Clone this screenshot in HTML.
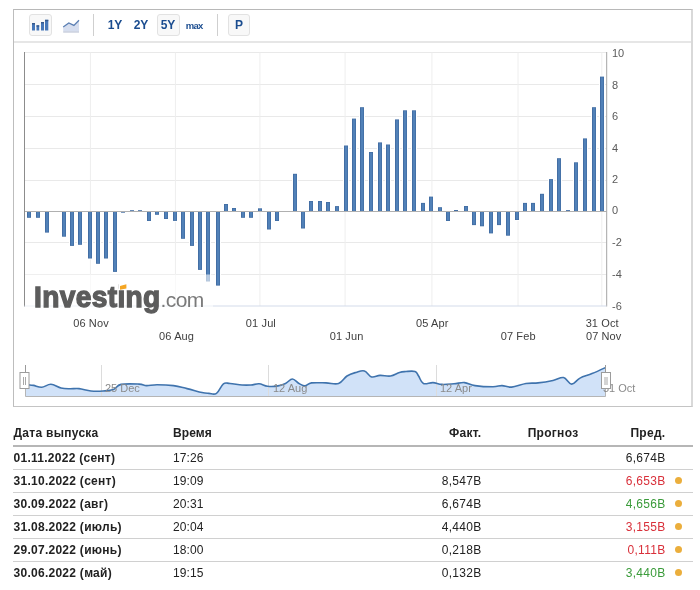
<!DOCTYPE html>
<html lang="ru"><head><meta charset="utf-8"><title>Chart</title>
<style>
html,body{margin:0;padding:0;background:#fff;}
body{width:700px;height:590px;position:relative;overflow:hidden;font-family:"Liberation Sans",sans-serif;}
#box{position:absolute;left:13px;top:9px;width:677px;height:396px;border:1px solid #b8b8b8;border-left-color:#bdbdbd;border-right:2px solid #d9d9d9;border-bottom-color:#c4c4c4;background:#fff;}
#sep{position:absolute;left:14px;top:41px;width:677px;height:2px;background:#e6e6e6;}
.btn{position:absolute;top:14.1px;width:22.6px;height:22.4px;box-sizing:border-box;border:1px solid transparent;border-radius:3px;}
.btn.on{background:#f8f8f8;border-color:#e2e2e2;}
.tb{position:absolute;top:14px;height:22px;line-height:22px;width:22px;text-align:center;font-weight:bold;font-size:12px;color:#1a4c8f;}
.vs{position:absolute;top:14px;width:1px;height:22px;background:#cfcfcf;}
svg{position:absolute;left:0;top:0;}
.yl{font-size:11px;fill:#5a5a5a;font-family:"Liberation Sans",sans-serif;}
.xl{font-size:11px;letter-spacing:0.12px;fill:#404040;font-family:"Liberation Sans",sans-serif;}
.nl{font-size:11px;fill:#8a8a8a;font-family:"Liberation Sans",sans-serif;}
#logo{position:absolute;left:34.3px;top:279px;height:36px;white-space:nowrap;}
#logo .a{position:absolute;left:0;top:0;font-weight:bold;font-size:29px;color:#5c5c5c;letter-spacing:0.36px;line-height:36px;-webkit-text-stroke:1.3px #5c5c5c;transform:scaleX(0.97);transform-origin:0 0;}
#logo .b{position:absolute;left:126.3px;top:2.8px;font-size:21px;color:#7a7a7a;letter-spacing:-0.6px;line-height:36px;}
#tit{position:absolute;left:118px;top:283px;width:8px;height:6px;}
#tbl{position:absolute;left:13px;top:420px;width:680px;font-size:12px;color:#222;}
.hdr{position:relative;height:27px;border-bottom:2px solid #b6b6b6;font-weight:bold;box-sizing:border-box;}
.row{position:relative;height:23px;border-bottom:1px solid #d0d0d0;box-sizing:border-box;}
.row:last-child{border-bottom:none;}
.hdr span,.row span{position:absolute;top:0;line-height:22px;white-space:nowrap;}
.hdr span{line-height:26.6px;}
.c1{left:0.5px;font-weight:bold;letter-spacing:0.27px;}
.c2{left:160px;letter-spacing:0.1px;}
.c3{right:211.5px;letter-spacing:0.3px;}
.c4{right:114.6px;letter-spacing:0.3px;}
.c5{right:27.5px;letter-spacing:0.3px;}
.r{color:#d9303a;} .g{color:#3a9b3a;} .k{color:#222;}
.dot{position:absolute;left:662px;top:7.3px;width:7px;height:7px;border-radius:50%;background:#ebae3c;}
</style></head><body>
<div id="box"></div>
<div id="sep"></div>
<div class="btn on" style="left:29.2px"></div>
<div class="btn on" style="left:157px"></div>
<div class="btn on" style="left:227.9px"></div>
<div class="tb" style="left:104px">1Y</div>
<div class="tb" style="left:130px">2Y</div>
<div class="tb" style="left:157px">5Y</div>
<div class="tb" style="left:183.1px;top:14.5px;font-size:9.5px;letter-spacing:-0.75px;">max</div>
<div class="tb" style="left:228px">P</div>
<div class="vs" style="left:93px"></div>
<div class="vs" style="left:216.5px"></div>
<svg width="700" height="410" viewBox="0 0 700 410">
<!-- toolbar icons -->
<g fill="#4677b8"><rect x="32" y="23" width="3" height="7.5"/><rect x="36.5" y="25.3" width="2.7" height="5.2"/><rect x="41" y="22" width="3" height="8.5"/><rect x="45" y="19.8" width="3.3" height="10.7"/></g>
<g fill="#35598c"><rect x="32" y="23" width="3" height="1.4"/><rect x="36.5" y="25.3" width="2.7" height="1.4"/><rect x="41" y="22" width="3" height="1.4"/><rect x="45" y="19.8" width="3.3" height="1.4"/></g>
<path d="M63.2 27L68.8 22.9L73.9 25.4L79 20.3V31.5H63.2Z" fill="#d6deef"/>
<path d="M63.2 32H79" stroke="#b4bccf" stroke-width="1"/>
<path d="M63.2 27L68.8 22.9L73.9 25.4L79 20.3" fill="none" stroke="#5b7fb3" stroke-width="1.3"/>
<path d="M24.5 52.50H606.5" stroke="#e9e9e9" stroke-width="1"/>
<path d="M24.5 84.50H606.5" stroke="#e9e9e9" stroke-width="1"/>
<path d="M24.5 116.50H606.5" stroke="#e9e9e9" stroke-width="1"/>
<path d="M24.5 148.50H606.5" stroke="#e9e9e9" stroke-width="1"/>
<path d="M24.5 180.50H606.5" stroke="#e9e9e9" stroke-width="1"/>
<path d="M24.5 242.50H606.5" stroke="#e9e9e9" stroke-width="1"/>
<path d="M24.5 274.50H606.5" stroke="#e9e9e9" stroke-width="1"/>
<path d="M90.4 52.5V306" stroke="#eeeeee" stroke-width="1"/>
<path d="M175.4 52.5V306" stroke="#eeeeee" stroke-width="1"/>
<path d="M259.9 52.5V306" stroke="#eeeeee" stroke-width="1"/>
<path d="M345.1 52.5V306" stroke="#eeeeee" stroke-width="1"/>
<path d="M431.9 52.5V306" stroke="#eeeeee" stroke-width="1"/>
<path d="M518 52.5V306" stroke="#eeeeee" stroke-width="1"/>
<path d="M601.8 52.5V306" stroke="#eeeeee" stroke-width="1"/>
<rect x="26" y="212" width="6" height="6.8" fill="#fff"/>
<rect x="27" y="212" width="4" height="5.8" fill="#436ea4"/>
<rect x="28" y="212" width="2.2" height="5.0" fill="#5181b8"/>
<rect x="35" y="212" width="6" height="6.8" fill="#fff"/>
<rect x="36" y="212" width="4" height="5.8" fill="#436ea4"/>
<rect x="37" y="212" width="2.2" height="5.0" fill="#5181b8"/>
<rect x="44" y="212" width="6" height="21.6" fill="#fff"/>
<rect x="45" y="212" width="4" height="20.6" fill="#436ea4"/>
<rect x="46" y="212" width="2.2" height="19.8" fill="#5181b8"/>
<rect x="61" y="212" width="6" height="25.7" fill="#fff"/>
<rect x="62" y="212" width="4" height="24.7" fill="#436ea4"/>
<rect x="63" y="212" width="2.2" height="23.9" fill="#5181b8"/>
<rect x="69" y="212" width="6" height="34.9" fill="#fff"/>
<rect x="70" y="212" width="4" height="33.9" fill="#436ea4"/>
<rect x="71" y="212" width="2.2" height="33.1" fill="#5181b8"/>
<rect x="77" y="212" width="6" height="33.8" fill="#fff"/>
<rect x="78" y="212" width="4" height="32.8" fill="#436ea4"/>
<rect x="79" y="212" width="2.2" height="32.0" fill="#5181b8"/>
<rect x="87" y="212" width="6" height="47.5" fill="#fff"/>
<rect x="88" y="212" width="4" height="46.5" fill="#436ea4"/>
<rect x="89" y="212" width="2.2" height="45.7" fill="#5181b8"/>
<rect x="95" y="212" width="6" height="52.8" fill="#fff"/>
<rect x="96" y="212" width="4" height="51.8" fill="#436ea4"/>
<rect x="97" y="212" width="2.2" height="51.0" fill="#5181b8"/>
<rect x="103" y="212" width="6" height="47.5" fill="#fff"/>
<rect x="104" y="212" width="4" height="46.5" fill="#436ea4"/>
<rect x="105" y="212" width="2.2" height="45.7" fill="#5181b8"/>
<rect x="112" y="212" width="6" height="60.9" fill="#fff"/>
<rect x="113" y="212" width="4" height="59.9" fill="#436ea4"/>
<rect x="114" y="212" width="2.2" height="59.1" fill="#5181b8"/>
<rect x="120" y="212" width="6" height="1.7" fill="#fff"/>
<rect x="121" y="212" width="4" height="0.7" fill="#436ea4"/>
<rect x="129" y="209.2" width="6" height="1.8" fill="#fff"/>
<rect x="130" y="210.2" width="4" height="0.8" fill="#436ea4"/>
<rect x="137" y="209.2" width="6" height="1.8" fill="#fff"/>
<rect x="138" y="210.2" width="4" height="0.8" fill="#436ea4"/>
<rect x="146" y="212" width="6" height="10.0" fill="#fff"/>
<rect x="147" y="212" width="4" height="9.0" fill="#436ea4"/>
<rect x="148" y="212" width="2.2" height="8.2" fill="#5181b8"/>
<rect x="154" y="212" width="6" height="3.8" fill="#fff"/>
<rect x="155" y="212" width="4" height="2.8" fill="#436ea4"/>
<rect x="156" y="212" width="2.2" height="2.0" fill="#5181b8"/>
<rect x="163" y="212" width="6" height="8.0" fill="#fff"/>
<rect x="164" y="212" width="4" height="7.0" fill="#436ea4"/>
<rect x="165" y="212" width="2.2" height="6.2" fill="#5181b8"/>
<rect x="172" y="212" width="6" height="9.9" fill="#fff"/>
<rect x="173" y="212" width="4" height="8.9" fill="#436ea4"/>
<rect x="174" y="212" width="2.2" height="8.1" fill="#5181b8"/>
<rect x="180" y="212" width="6" height="27.8" fill="#fff"/>
<rect x="181" y="212" width="4" height="26.8" fill="#436ea4"/>
<rect x="182" y="212" width="2.2" height="26.0" fill="#5181b8"/>
<rect x="189" y="212" width="6" height="34.9" fill="#fff"/>
<rect x="190" y="212" width="4" height="33.9" fill="#436ea4"/>
<rect x="191" y="212" width="2.2" height="33.1" fill="#5181b8"/>
<rect x="197" y="212" width="6" height="58.9" fill="#fff"/>
<rect x="198" y="212" width="4" height="57.9" fill="#436ea4"/>
<rect x="199" y="212" width="2.2" height="57.1" fill="#5181b8"/>
<rect x="205" y="212" width="6" height="70.5" fill="#fff"/>
<rect x="206" y="212" width="4" height="69.5" fill="#436ea4"/>
<rect x="207" y="212" width="2.2" height="68.7" fill="#5181b8"/>
<rect x="215" y="212" width="6" height="74.6" fill="#fff"/>
<rect x="216" y="212" width="4" height="73.6" fill="#436ea4"/>
<rect x="217" y="212" width="2.2" height="72.8" fill="#5181b8"/>
<rect x="223" y="203.0" width="6" height="8.0" fill="#fff"/>
<rect x="224" y="204.0" width="4" height="7.0" fill="#436ea4"/>
<rect x="225" y="204.8" width="2.2" height="6.2" fill="#5181b8"/>
<rect x="231" y="207.0" width="6" height="4.0" fill="#fff"/>
<rect x="232" y="208.0" width="4" height="3.0" fill="#436ea4"/>
<rect x="233" y="208.8" width="2.2" height="2.2" fill="#5181b8"/>
<rect x="240" y="212" width="6" height="6.8" fill="#fff"/>
<rect x="241" y="212" width="4" height="5.8" fill="#436ea4"/>
<rect x="242" y="212" width="2.2" height="5.0" fill="#5181b8"/>
<rect x="248" y="212" width="6" height="6.8" fill="#fff"/>
<rect x="249" y="212" width="4" height="5.8" fill="#436ea4"/>
<rect x="250" y="212" width="2.2" height="5.0" fill="#5181b8"/>
<rect x="257" y="207.3" width="6" height="3.7" fill="#fff"/>
<rect x="258" y="208.3" width="4" height="2.7" fill="#436ea4"/>
<rect x="259" y="209.1" width="2.2" height="1.9" fill="#5181b8"/>
<rect x="266" y="212" width="6" height="18.5" fill="#fff"/>
<rect x="267" y="212" width="4" height="17.5" fill="#436ea4"/>
<rect x="268" y="212" width="2.2" height="16.7" fill="#5181b8"/>
<rect x="274" y="212" width="6" height="10.0" fill="#fff"/>
<rect x="275" y="212" width="4" height="9.0" fill="#436ea4"/>
<rect x="276" y="212" width="2.2" height="8.2" fill="#5181b8"/>
<rect x="292" y="172.8" width="6" height="38.2" fill="#fff"/>
<rect x="293" y="173.8" width="4" height="37.2" fill="#436ea4"/>
<rect x="294" y="174.6" width="2.2" height="36.5" fill="#5181b8"/>
<rect x="300" y="212" width="6" height="17.5" fill="#fff"/>
<rect x="301" y="212" width="4" height="16.5" fill="#436ea4"/>
<rect x="302" y="212" width="2.2" height="15.7" fill="#5181b8"/>
<rect x="308" y="200.0" width="6" height="11.0" fill="#fff"/>
<rect x="309" y="201.0" width="4" height="10.0" fill="#436ea4"/>
<rect x="310" y="201.8" width="2.2" height="9.2" fill="#5181b8"/>
<rect x="317" y="200.0" width="6" height="11.0" fill="#fff"/>
<rect x="318" y="201.0" width="4" height="10.0" fill="#436ea4"/>
<rect x="319" y="201.8" width="2.2" height="9.2" fill="#5181b8"/>
<rect x="325" y="201.0" width="6" height="10.0" fill="#fff"/>
<rect x="326" y="202.0" width="4" height="9.0" fill="#436ea4"/>
<rect x="327" y="202.8" width="2.2" height="8.2" fill="#5181b8"/>
<rect x="334" y="205.1" width="6" height="5.9" fill="#fff"/>
<rect x="335" y="206.1" width="4" height="4.9" fill="#436ea4"/>
<rect x="336" y="206.9" width="2.2" height="4.1" fill="#5181b8"/>
<rect x="343" y="144.5" width="6" height="66.5" fill="#fff"/>
<rect x="344" y="145.5" width="4" height="65.5" fill="#436ea4"/>
<rect x="345" y="146.3" width="2.2" height="64.7" fill="#5181b8"/>
<rect x="351" y="117.6" width="6" height="93.4" fill="#fff"/>
<rect x="352" y="118.6" width="4" height="92.4" fill="#436ea4"/>
<rect x="353" y="119.4" width="2.2" height="91.6" fill="#5181b8"/>
<rect x="359" y="106.2" width="6" height="104.8" fill="#fff"/>
<rect x="360" y="107.2" width="4" height="103.8" fill="#436ea4"/>
<rect x="361" y="108.0" width="2.2" height="103.0" fill="#5181b8"/>
<rect x="368" y="151.0" width="6" height="60.0" fill="#fff"/>
<rect x="369" y="152.0" width="4" height="59.0" fill="#436ea4"/>
<rect x="370" y="152.8" width="2.2" height="58.2" fill="#5181b8"/>
<rect x="377" y="141.4" width="6" height="69.6" fill="#fff"/>
<rect x="378" y="142.4" width="4" height="68.6" fill="#436ea4"/>
<rect x="379" y="143.2" width="2.2" height="67.8" fill="#5181b8"/>
<rect x="385" y="143.5" width="6" height="67.5" fill="#fff"/>
<rect x="386" y="144.5" width="4" height="66.5" fill="#436ea4"/>
<rect x="387" y="145.3" width="2.2" height="65.7" fill="#5181b8"/>
<rect x="394" y="118.4" width="6" height="92.6" fill="#fff"/>
<rect x="395" y="119.4" width="4" height="91.6" fill="#436ea4"/>
<rect x="396" y="120.2" width="2.2" height="90.8" fill="#5181b8"/>
<rect x="402" y="109.3" width="6" height="101.7" fill="#fff"/>
<rect x="403" y="110.3" width="4" height="100.7" fill="#436ea4"/>
<rect x="404" y="111.1" width="2.2" height="99.9" fill="#5181b8"/>
<rect x="411" y="109.3" width="6" height="101.7" fill="#fff"/>
<rect x="412" y="110.3" width="4" height="100.7" fill="#436ea4"/>
<rect x="413" y="111.1" width="2.2" height="99.9" fill="#5181b8"/>
<rect x="420" y="201.9" width="6" height="9.1" fill="#fff"/>
<rect x="421" y="202.9" width="4" height="8.1" fill="#436ea4"/>
<rect x="422" y="203.7" width="2.2" height="7.3" fill="#5181b8"/>
<rect x="428" y="195.6" width="6" height="15.4" fill="#fff"/>
<rect x="429" y="196.6" width="4" height="14.4" fill="#436ea4"/>
<rect x="430" y="197.4" width="2.2" height="13.6" fill="#5181b8"/>
<rect x="437" y="206.2" width="6" height="4.8" fill="#fff"/>
<rect x="438" y="207.2" width="4" height="3.8" fill="#436ea4"/>
<rect x="439" y="208.0" width="2.2" height="3.0" fill="#5181b8"/>
<rect x="445" y="212" width="6" height="10.0" fill="#fff"/>
<rect x="446" y="212" width="4" height="9.0" fill="#436ea4"/>
<rect x="447" y="212" width="2.2" height="8.2" fill="#5181b8"/>
<rect x="453" y="209.0" width="6" height="2.0" fill="#fff"/>
<rect x="454" y="210.0" width="4" height="1.0" fill="#436ea4"/>
<rect x="463" y="205.0" width="6" height="6.0" fill="#fff"/>
<rect x="464" y="206.0" width="4" height="5.0" fill="#436ea4"/>
<rect x="465" y="206.8" width="2.2" height="4.2" fill="#5181b8"/>
<rect x="471" y="212" width="6" height="14.1" fill="#fff"/>
<rect x="472" y="212" width="4" height="13.1" fill="#436ea4"/>
<rect x="473" y="212" width="2.2" height="12.3" fill="#5181b8"/>
<rect x="479" y="212" width="6" height="15.3" fill="#fff"/>
<rect x="480" y="212" width="4" height="14.3" fill="#436ea4"/>
<rect x="481" y="212" width="2.2" height="13.5" fill="#5181b8"/>
<rect x="488" y="212" width="6" height="22.4" fill="#fff"/>
<rect x="489" y="212" width="4" height="21.4" fill="#436ea4"/>
<rect x="490" y="212" width="2.2" height="20.6" fill="#5181b8"/>
<rect x="496" y="212" width="6" height="14.1" fill="#fff"/>
<rect x="497" y="212" width="4" height="13.1" fill="#436ea4"/>
<rect x="498" y="212" width="2.2" height="12.3" fill="#5181b8"/>
<rect x="505" y="212" width="6" height="24.7" fill="#fff"/>
<rect x="506" y="212" width="4" height="23.7" fill="#436ea4"/>
<rect x="507" y="212" width="2.2" height="22.9" fill="#5181b8"/>
<rect x="514" y="212" width="6" height="9.0" fill="#fff"/>
<rect x="515" y="212" width="4" height="8.0" fill="#436ea4"/>
<rect x="516" y="212" width="2.2" height="7.2" fill="#5181b8"/>
<rect x="522" y="201.9" width="6" height="9.1" fill="#fff"/>
<rect x="523" y="202.9" width="4" height="8.1" fill="#436ea4"/>
<rect x="524" y="203.7" width="2.2" height="7.3" fill="#5181b8"/>
<rect x="530" y="201.9" width="6" height="9.1" fill="#fff"/>
<rect x="531" y="202.9" width="4" height="8.1" fill="#436ea4"/>
<rect x="532" y="203.7" width="2.2" height="7.3" fill="#5181b8"/>
<rect x="539" y="192.8" width="6" height="18.2" fill="#fff"/>
<rect x="540" y="193.8" width="4" height="17.2" fill="#436ea4"/>
<rect x="541" y="194.6" width="2.2" height="16.4" fill="#5181b8"/>
<rect x="548" y="178.1" width="6" height="32.9" fill="#fff"/>
<rect x="549" y="179.1" width="4" height="31.9" fill="#436ea4"/>
<rect x="550" y="179.9" width="2.2" height="31.1" fill="#5181b8"/>
<rect x="556" y="157.2" width="6" height="53.8" fill="#fff"/>
<rect x="557" y="158.2" width="4" height="52.8" fill="#436ea4"/>
<rect x="558" y="159.0" width="2.2" height="52.0" fill="#5181b8"/>
<rect x="565" y="209.1" width="6" height="1.9" fill="#fff"/>
<rect x="566" y="210.1" width="4" height="0.9" fill="#436ea4"/>
<rect x="573" y="161.3" width="6" height="49.7" fill="#fff"/>
<rect x="574" y="162.3" width="4" height="48.7" fill="#436ea4"/>
<rect x="575" y="163.1" width="2.2" height="47.9" fill="#5181b8"/>
<rect x="582" y="137.4" width="6" height="73.6" fill="#fff"/>
<rect x="583" y="138.4" width="4" height="72.6" fill="#436ea4"/>
<rect x="584" y="139.2" width="2.2" height="71.8" fill="#5181b8"/>
<rect x="591" y="106.2" width="6" height="104.8" fill="#fff"/>
<rect x="592" y="107.2" width="4" height="103.8" fill="#436ea4"/>
<rect x="593" y="108.0" width="2.2" height="103.0" fill="#5181b8"/>
<rect x="599" y="75.6" width="6" height="135.4" fill="#fff"/>
<rect x="600" y="76.6" width="4" height="134.4" fill="#436ea4"/>
<rect x="601" y="77.4" width="2.2" height="133.6" fill="#5181b8"/>
<path d="M24.5 211.5H606.5" stroke="#b0b0b0" stroke-width="1"/>
<path d="M24.5 52V306.5" stroke="#8c8c8c" stroke-width="1"/>
<path d="M606.7 52V306.5" stroke="#a4a4a4" stroke-width="1"/>
<path d="M24.5 306H606.5" stroke="#d3dbea" stroke-width="1"/>
<rect x="25" y="274.5" width="188" height="42" fill="#fff" opacity="0.6"/>
<text x="612" y="56.5" class="yl">10</text>
<text x="612" y="88.5" class="yl">8</text>
<text x="612" y="119.6" class="yl">6</text>
<text x="612" y="151.5" class="yl">4</text>
<text x="612" y="183.2" class="yl">2</text>
<text x="612" y="214.2" class="yl">0</text>
<text x="612" y="245.7" class="yl">-2</text>
<text x="612" y="278.0" class="yl">-4</text>
<text x="612" y="310.0" class="yl">-6</text>
<text x="91" y="327.0" class="xl" text-anchor="middle">06 Nov</text>
<text x="176.6" y="339.6" class="xl" text-anchor="middle">06 Aug</text>
<text x="260.9" y="327.0" class="xl" text-anchor="middle">01 Jul</text>
<text x="346.6" y="339.6" class="xl" text-anchor="middle">01 Jun</text>
<text x="432.3" y="327.0" class="xl" text-anchor="middle">05 Apr</text>
<text x="518.2" y="339.6" class="xl" text-anchor="middle">07 Feb</text>
<text x="602.2" y="327.0" class="xl" text-anchor="middle">31 Oct</text>
<text x="603.7" y="339.6" class="xl" text-anchor="middle">07 Nov</text>
<path d="M25.5 385C26.1 385.0 27.5 384.8 29 384.9C30.5 385.0 31.3 385.0 33.6 385.4C35.9 385.8 38.6 387.5 41.7 387.3C44.8 387.1 47.4 384.2 50.9 384.3C54.4 384.4 57.6 387.2 61 388C64.4 388.8 66.8 388.7 70 388.8C73.2 388.9 75.2 388.2 79 388.6C82.8 389.0 86.7 390.6 91 391C95.3 391.4 99.0 391.3 103 391C107.0 390.7 110.3 390.7 113.5 389.5C116.7 388.3 116.4 385.4 121 384.4C125.6 383.4 134.4 383.9 139 384.1C143.6 384.3 143.3 385.5 146.5 385.6C149.7 385.7 152.1 384.7 157 384.7C161.9 384.7 168.1 384.9 173.5 385.6C178.9 386.3 181.9 387.4 187 388.6C192.1 389.8 198.0 391.6 202 392.5C206.0 393.4 206.4 393.2 209 393.4C211.6 393.6 213.9 395.1 216.5 393.4C219.1 391.7 221.0 385.6 223.4 383.8C225.8 382.0 226.7 383.3 230 383.5C233.3 383.7 238.2 384.7 242 385C245.8 385.3 247.9 385.2 251 385C254.1 384.8 256.1 383.6 259.1 383.8C262.1 384.0 264.1 385.8 267.5 386.2C270.9 386.6 274.8 386.4 278 385.9C281.2 385.4 282.9 384.7 285.5 383.5C288.1 382.3 290.0 379.0 292.4 379C294.8 379.0 296.7 382.3 299 383.5C301.3 384.7 302.7 386.0 305 385.9C307.3 385.8 307.8 383.4 311.6 382.9C315.4 382.4 321.1 382.8 326 382.9C330.9 383.0 334.8 384.7 338.6 383.5C342.4 382.3 343.9 378.0 347 376C350.1 374.0 352.9 373.3 356 372.4C359.1 371.5 361.6 370.1 364.4 370.9C367.2 371.7 368.8 376.1 371.6 376.9C374.4 377.7 376.6 375.6 380 375.4C383.4 375.2 387.0 376.5 390.5 376C394.0 375.5 396.7 373.2 399.5 372.4C402.3 371.6 403.2 371.7 406 371.5C408.8 371.3 412.7 370.7 415 371.5C417.3 372.3 417.1 373.8 418.6 376C420.1 378.2 420.8 382.3 423.4 383.5C426.0 384.7 429.7 382.4 433 382.6C436.3 382.8 438.2 384.2 442 384.4C445.8 384.6 449.9 384.1 454 383.8C458.1 383.5 460.7 382.3 464.5 382.6C468.3 382.9 469.9 384.8 475 385.6C480.1 386.4 488.1 386.8 493 386.8C497.9 386.8 498.7 385.5 502 385.6C505.3 385.7 507.3 387.5 511.6 387.1C515.9 386.7 521.2 384.3 526 383.5C530.8 382.7 533.1 383.4 538 382.9C542.9 382.4 548.4 381.5 553 380.5C557.6 379.5 560.2 376.9 563.5 377.5C566.8 378.1 568.6 384.0 571.6 384.1C574.6 384.2 576.3 380.0 580 378.1C583.7 376.2 587.4 375.5 592 373.6C596.6 371.7 603.1 368.7 605.5 367.6L605.5 396.5L25.5 396.5Z" fill="#d1e2f8"/>
<path d="M101.5 365V396" stroke="#dcdcdc" stroke-width="1"/>
<path d="M268.5 365V396" stroke="#dcdcdc" stroke-width="1"/>
<path d="M436.5 365V396" stroke="#dcdcdc" stroke-width="1"/>
<path d="M25.5 385C26.1 385.0 27.5 384.8 29 384.9C30.5 385.0 31.3 385.0 33.6 385.4C35.9 385.8 38.6 387.5 41.7 387.3C44.8 387.1 47.4 384.2 50.9 384.3C54.4 384.4 57.6 387.2 61 388C64.4 388.8 66.8 388.7 70 388.8C73.2 388.9 75.2 388.2 79 388.6C82.8 389.0 86.7 390.6 91 391C95.3 391.4 99.0 391.3 103 391C107.0 390.7 110.3 390.7 113.5 389.5C116.7 388.3 116.4 385.4 121 384.4C125.6 383.4 134.4 383.9 139 384.1C143.6 384.3 143.3 385.5 146.5 385.6C149.7 385.7 152.1 384.7 157 384.7C161.9 384.7 168.1 384.9 173.5 385.6C178.9 386.3 181.9 387.4 187 388.6C192.1 389.8 198.0 391.6 202 392.5C206.0 393.4 206.4 393.2 209 393.4C211.6 393.6 213.9 395.1 216.5 393.4C219.1 391.7 221.0 385.6 223.4 383.8C225.8 382.0 226.7 383.3 230 383.5C233.3 383.7 238.2 384.7 242 385C245.8 385.3 247.9 385.2 251 385C254.1 384.8 256.1 383.6 259.1 383.8C262.1 384.0 264.1 385.8 267.5 386.2C270.9 386.6 274.8 386.4 278 385.9C281.2 385.4 282.9 384.7 285.5 383.5C288.1 382.3 290.0 379.0 292.4 379C294.8 379.0 296.7 382.3 299 383.5C301.3 384.7 302.7 386.0 305 385.9C307.3 385.8 307.8 383.4 311.6 382.9C315.4 382.4 321.1 382.8 326 382.9C330.9 383.0 334.8 384.7 338.6 383.5C342.4 382.3 343.9 378.0 347 376C350.1 374.0 352.9 373.3 356 372.4C359.1 371.5 361.6 370.1 364.4 370.9C367.2 371.7 368.8 376.1 371.6 376.9C374.4 377.7 376.6 375.6 380 375.4C383.4 375.2 387.0 376.5 390.5 376C394.0 375.5 396.7 373.2 399.5 372.4C402.3 371.6 403.2 371.7 406 371.5C408.8 371.3 412.7 370.7 415 371.5C417.3 372.3 417.1 373.8 418.6 376C420.1 378.2 420.8 382.3 423.4 383.5C426.0 384.7 429.7 382.4 433 382.6C436.3 382.8 438.2 384.2 442 384.4C445.8 384.6 449.9 384.1 454 383.8C458.1 383.5 460.7 382.3 464.5 382.6C468.3 382.9 469.9 384.8 475 385.6C480.1 386.4 488.1 386.8 493 386.8C497.9 386.8 498.7 385.5 502 385.6C505.3 385.7 507.3 387.5 511.6 387.1C515.9 386.7 521.2 384.3 526 383.5C530.8 382.7 533.1 383.4 538 382.9C542.9 382.4 548.4 381.5 553 380.5C557.6 379.5 560.2 376.9 563.5 377.5C566.8 378.1 568.6 384.0 571.6 384.1C574.6 384.2 576.3 380.0 580 378.1C583.7 376.2 587.4 375.5 592 373.6C596.6 371.7 603.1 368.7 605.5 367.6" fill="none" stroke="#3f73ad" stroke-width="1.6" stroke-linejoin="round"/>
<path d="M25.5 372V396.5H605.5V372" fill="none" stroke="#b5b5b5" stroke-width="1"/>
<text x="105" y="391.8" class="nl">25 Dec</text>
<text x="273" y="391.8" class="nl">12 Aug</text>
<text x="440" y="391.8" class="nl">12 Apr</text>
<text x="603" y="391.8" class="nl">31 Oct</text>
<path d="M25.5 365V372.5" stroke="#9a9a9a" stroke-width="1"/>
<rect x="20" y="372.5" width="9" height="16" fill="#fff" stroke="#9c9c9c" stroke-width="1"/>
<path d="M23.5 377V385M25.5 377V385" stroke="#a8a8a8" stroke-width="1"/>
<path d="M605.5 365V372.5" stroke="#9a9a9a" stroke-width="1"/>
<rect x="601.5" y="372.5" width="9" height="16" fill="#fff" stroke="#9c9c9c" stroke-width="1"/>
<path d="M605.0 377V385M607.0 377V385" stroke="#a8a8a8" stroke-width="1"/>
</svg>
<div id="logo"><span class="a">Investing</span><span class="b">.com</span></div>
<svg id="tit" width="8" height="6" viewBox="0 0 8 6" style="left:118.5px;top:283.5px"><rect x="0" y="0" width="8" height="6" fill="#fff"/><path d="M1 2L7.4 0.2V4.4L1 5.8Z" fill="#f5a623"/></svg>
<div id="tbl">
<div class="hdr"><span class="c1" style="letter-spacing:0.28px">Дата выпуска</span><span class="c2">Время</span><span class="c3">Факт.</span><span class="c4">Прогноз</span><span class="c5">Пред.</span></div>
<div class="row"><span class="c1">01.11.2022 (сент)</span><span class="c2">17:26</span><span class="c3"></span><span class="c4"></span><span class="c5 k">6,674B</span></div>
<div class="row"><span class="c1">31.10.2022 (сент)</span><span class="c2">19:09</span><span class="c3">8,547B</span><span class="c4"></span><span class="c5 r">6,653B</span><i class="dot"></i></div>
<div class="row"><span class="c1">30.09.2022 (авг)</span><span class="c2">20:31</span><span class="c3">6,674B</span><span class="c4"></span><span class="c5 g">4,656B</span><i class="dot"></i></div>
<div class="row"><span class="c1">31.08.2022 (июль)</span><span class="c2">20:04</span><span class="c3">4,440B</span><span class="c4"></span><span class="c5 r">3,155B</span><i class="dot"></i></div>
<div class="row"><span class="c1">29.07.2022 (июнь)</span><span class="c2">18:00</span><span class="c3">0,218B</span><span class="c4"></span><span class="c5 r">0,111B</span><i class="dot"></i></div>
<div class="row"><span class="c1">30.06.2022 (май)</span><span class="c2">19:15</span><span class="c3">0,132B</span><span class="c4"></span><span class="c5 g">3,440B</span><i class="dot"></i></div>
</div>
</body></html>
